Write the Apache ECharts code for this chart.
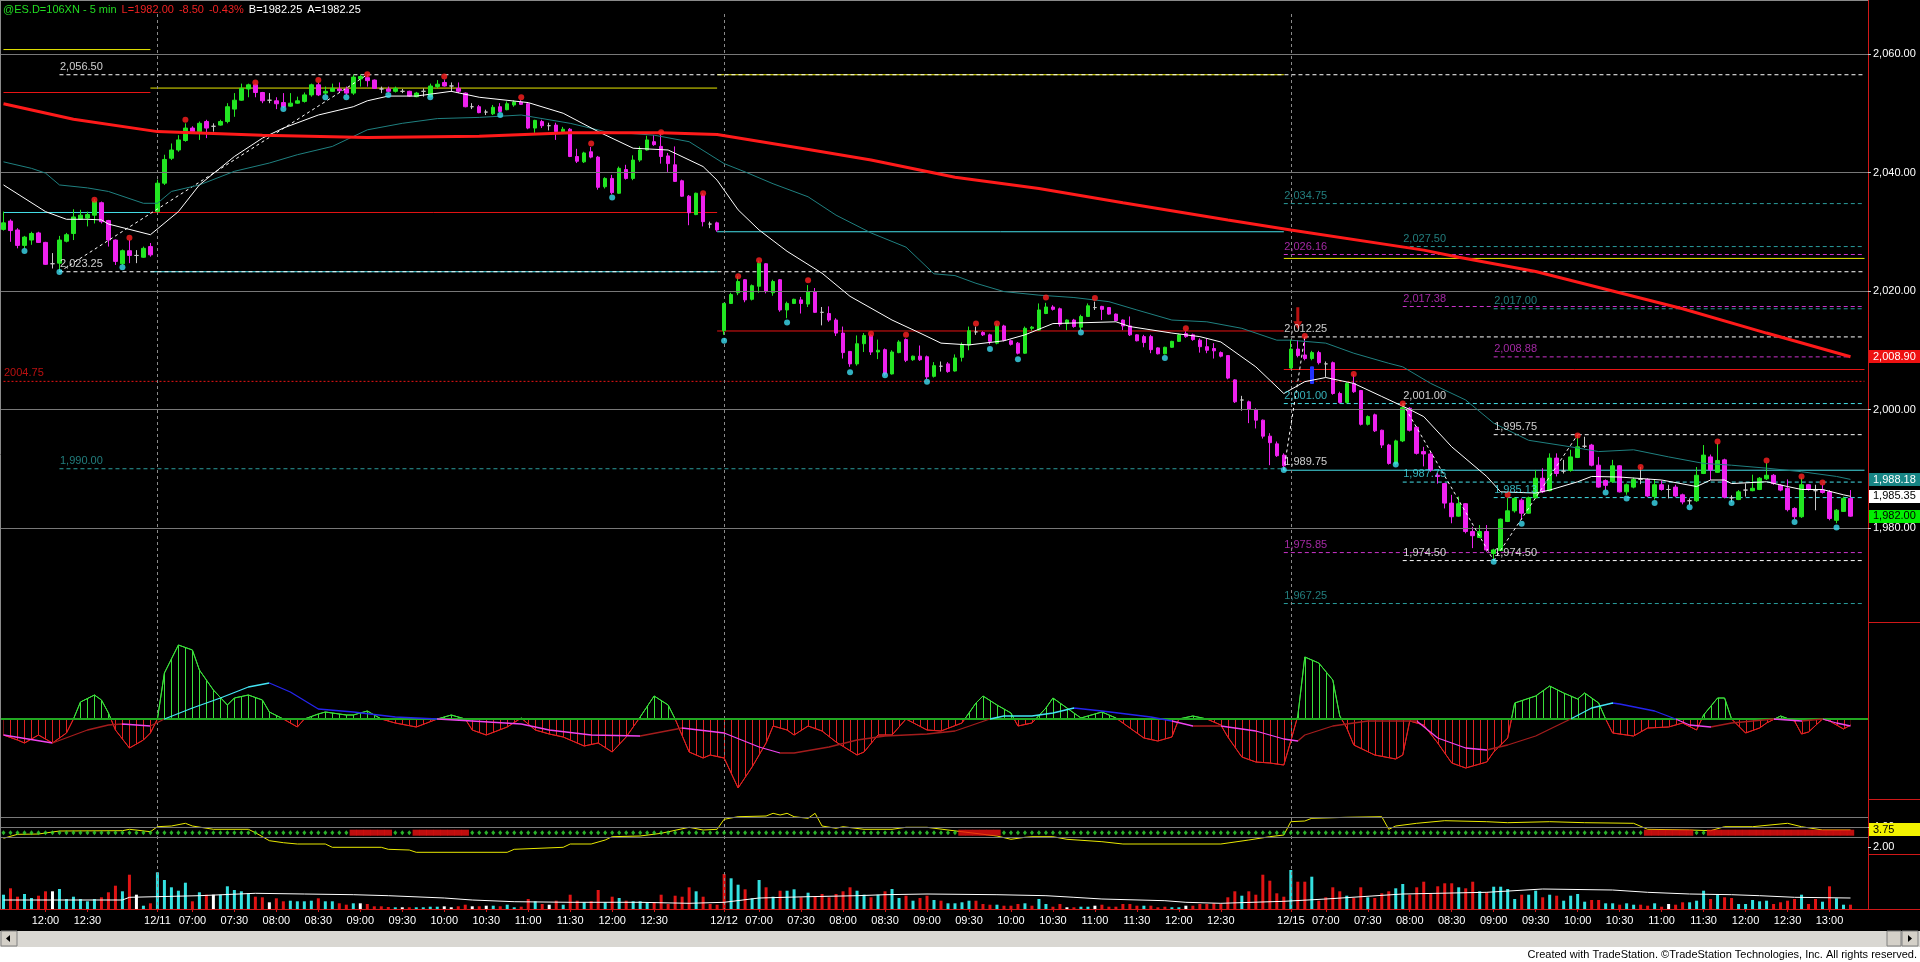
<!DOCTYPE html>
<html>
<head>
<meta charset="utf-8">
<title>@ES.D 5 min</title>
<style>
html,body{margin:0;padding:0;background:#000;overflow:hidden}
#chart{width:1920px;height:962px}
</style>
<script src="https://cdn.jsdelivr.net/npm/echarts@6/dist/echarts.min.js"></script>
</head>
<body>
<div id="chart"></div>
<script>
/* ES 5 min, 12/10 - 12/15. Price / MACD / signal strip / volume, TradeStation look. */
var FONT = "'Liberation Sans', Arial, sans-serif";
var FS = 11;

/* sessions: [day, first bar time, bar count] */
var sessions = [["12/10","11:30",22],["12/11","06:35",81],["12/12","06:35",81],["12/15","06:35",81]];
var emptySlots = 2;

/* bars: [open, high, low, close] */
var ohlc = [
 /* 12/10 */
 [2030.4,2033.4,2030.2,2031.5],[2031.8,2032.1,2028.3,2030.2],[2030.3,2030.6,2027.2,2027.7],[2027.7,2029.3,2027.2,2029.1],
 [2028.6,2030.0,2027.8,2029.7],[2029.8,2030.0,2028.1,2028.2],[2028.2,2028.3,2024.4,2024.5],[2024.6,2026.4,2023.8,2024.6],
 [2024.7,2029.3,2023.25,2028.6],[2028.4,2029.8,2028.2,2029.5],[2029.7,2033.8,2028.6,2032.5],[2032.1,2033.7,2032.0,2032.8],
 [2032.3,2033.4,2030.9,2032.9],[2032.8,2035.5,2031.4,2035.1],[2034.9,2035.1,2031.4,2031.7],[2031.9,2032.0,2027.5,2028.6],
 [2028.6,2028.7,2024.4,2025.0],[2024.6,2027.0,2024.4,2026.8],[2026.8,2028.6,2024.7,2026.0],[2026.0,2026.9,2024.7,2026.0],
 [2025.7,2027.5,2025.6,2027.2],[2027.5,2028.1,2025.8,2026.1],
 /* 12/11 */
 [2033.4,2038.8,2033.3,2038.2],[2038.2,2043.0,2037.9,2042.2],[2042.4,2044.9,2042.1,2043.8],[2043.8,2046.3,2043.5,2045.5],
 [2045.4,2048.3,2045.2,2047.5],[2047.5,2047.8,2046.6,2046.9],[2046.9,2048.6,2045.5,2048.3],[2048.6,2048.9,2045.8,2047.5],
 [2047.8,2048.3,2046.9,2047.8],[2048.0,2048.9,2047.9,2048.6],[2048.6,2051.7,2048.3,2051.1],[2050.7,2053.4,2049.4,2052.2],
 [2052.2,2055.0,2052.1,2054.2],[2054.1,2055.0,2052.7,2054.8],[2054.8,2055.0,2052.7,2053.5],[2053.5,2053.6,2051.7,2052.1],
 [2052.2,2053.4,2051.7,2052.2],[2052.1,2052.7,2050.7,2051.6],[2051.8,2053.4,2050.9,2051.1],[2051.2,2053.4,2051.1,2051.7],
 [2051.7,2052.8,2051.6,2052.1],[2052.0,2053.5,2051.8,2053.1],[2053.1,2055.0,2052.8,2054.8],[2054.8,2055.2,2052.9,2053.1],
 [2053.4,2054.5,2053.1,2053.7],[2053.7,2055.0,2053.6,2054.2],[2054.1,2055.2,2053.4,2053.8],[2054.1,2054.5,2053.1,2053.4],
 [2053.4,2056.5,2053.1,2056.1],[2055.8,2056.5,2054.5,2056.2],[2056.0,2056.5,2054.5,2055.5],[2055.6,2055.7,2054.1,2054.2],
 [2054.1,2054.5,2053.4,2054.1],[2054.1,2054.5,2053.5,2053.7],[2053.7,2054.5,2053.5,2054.2],[2053.7,2054.1,2053.4,2053.7],
 [2053.7,2053.8,2052.8,2052.9],[2052.8,2053.6,2052.7,2053.4],[2053.7,2054.2,2052.8,2053.7],[2052.8,2055.0,2052.7,2054.6],
 [2054.5,2055.6,2054.2,2054.9],[2055.2,2055.7,2054.5,2054.6],[2054.6,2055.2,2053.6,2054.6],[2054.2,2055.2,2053.4,2053.7],
 [2053.4,2053.5,2051.0,2051.1],[2051.1,2051.7,2050.7,2051.1],[2051.1,2051.4,2050.0,2050.1],[2050.2,2050.6,2049.7,2050.2],
 [2049.9,2051.4,2049.7,2051.0],[2051.1,2051.7,2050.1,2050.3],[2050.6,2052.0,2050.5,2051.6],[2051.4,2052.2,2051.1,2051.9],
 [2051.9,2052.2,2051.4,2051.5],[2051.6,2051.7,2047.3,2047.5],[2047.5,2048.9,2046.7,2048.8],[2048.6,2048.9,2047.5,2047.9],
 [2047.9,2048.4,2047.1,2047.9],[2048.0,2048.4,2045.5,2046.9],[2046.9,2047.7,2046.6,2047.3],[2047.3,2047.5,2042.6,2042.7],
 [2042.7,2044.0,2041.6,2041.9],[2041.8,2043.5,2041.6,2043.3],[2043.5,2044.3,2042.4,2042.6],[2042.6,2042.8,2037.1,2037.5],
 [2037.6,2039.2,2037.3,2039.0],[2039.0,2039.6,2036.3,2036.6],[2036.5,2041.0,2036.4,2040.7],[2040.5,2041.3,2038.8,2039.0],
 [2039.0,2042.9,2038.7,2042.1],[2042.1,2044.4,2041.8,2043.8],[2043.8,2046.2,2043.7,2045.5],[2045.2,2046.3,2044.5,2044.7],
 [2044.4,2046.6,2041.5,2042.7],[2042.8,2043.3,2040.1,2041.5],[2041.3,2044.4,2038.4,2038.5],[2038.6,2038.8,2035.9,2036.0],
 [2036.0,2036.2,2031.1,2033.2],[2032.9,2036.6,2032.8,2036.5],[2036.2,2036.5,2030.9,2031.7],[2031.3,2031.7,2030.6,2031.3],
 [2031.5,2031.7,2030.0,2030.3],
 /* 12/12 */
 [2013.3,2018.0,2012.6,2017.9],[2017.9,2019.7,2017.8,2019.4],[2019.7,2022.5,2019.3,2021.6],[2021.9,2022.0,2018.1,2018.5],
 [2018.6,2021.1,2018.4,2020.9],[2020.8,2025.1,2019.7,2024.7],[2024.6,2024.7,2019.6,2019.9],[2019.7,2021.9,2019.2,2021.6],
 [2021.9,2022.0,2016.5,2016.8],[2016.8,2018.2,2015.4,2017.9],[2017.9,2018.7,2017.8,2018.6],[2018.5,2019.0,2016.2,2017.9],
 [2017.8,2021.0,2017.3,2019.9],[2019.9,2020.5,2016.3,2016.4],[2016.4,2017.3,2014.2,2016.4],[2016.2,2017.4,2014.8,2015.1],
 [2015.1,2015.4,2012.4,2012.9],[2012.9,2014.0,2008.6,2009.6],[2009.8,2009.8,2007.2,2007.7],[2007.7,2012.5,2007.4,2011.1],
 [2011.1,2012.9,2009.7,2012.5],[2012.5,2012.7,2009.2,2009.7],[2009.7,2011.8,2008.5,2010.0],[2010.1,2010.3,2005.7,2006.0],
 [2006.0,2010.0,2005.9,2009.7],[2009.6,2011.7,2009.5,2011.4],[2011.8,2012.0,2008.0,2008.3],[2008.4,2009.1,2008.2,2009.0],
 [2009.0,2010.8,2008.2,2008.4],[2008.9,2009.1,2005.1,2005.5],[2005.6,2008.0,2005.4,2007.4],[2007.3,2008.1,2006.4,2007.3],
 [2007.7,2008.0,2006.2,2006.4],[2006.5,2009.3,2006.4,2008.7],[2008.8,2011.3,2008.1,2010.9],[2010.9,2014.0,2010.0,2013.3],
 [2013.1,2014.0,2012.6,2013.1],[2013.0,2013.2,2012.4,2012.6],[2012.6,2012.8,2011.0,2011.5],[2011.2,2014.5,2011.0,2014.1],
 [2014.1,2014.3,2011.5,2011.7],[2011.6,2011.8,2010.8,2011.0],[2011.2,2011.4,2009.3,2009.5],[2009.5,2014.0,2009.4,2013.7],
 [2013.7,2014.1,2013.3,2013.9],[2013.4,2017.9,2013.3,2016.8],[2016.2,2018.0,2016.1,2017.3],[2017.3,2017.6,2016.7,2016.9],
 [2017.0,2017.2,2014.0,2014.4],[2014.5,2015.2,2013.4,2015.1],[2015.1,2015.3,2013.8,2014.0],[2013.9,2016.0,2013.4,2015.7],
 [2015.7,2017.9,2015.6,2017.5],[2017.2,2018.2,2016.8,2017.2],[2017.4,2017.5,2015.1,2016.9],[2017.2,2017.3,2016.0,2016.1],
 [2016.1,2016.2,2014.9,2015.0],[2015.1,2015.2,2013.4,2014.1],[2014.1,2015.7,2012.4,2012.6],[2012.6,2012.7,2011.5,2011.6],
 [2012.3,2012.6,2010.5,2011.3],[2012.3,2012.6,2009.5,2010.1],[2010.4,2010.5,2009.3,2009.4],[2009.4,2010.6,2009.3,2010.5],
 [2010.5,2011.6,2010.4,2011.5],[2011.5,2012.8,2011.4,2012.6],[2012.8,2013.2,2012.1,2012.3],[2012.6,2012.8,2011.6,2011.8],
 [2011.7,2012.0,2009.6,2010.6],[2010.6,2012.0,2009.5,2010.0],[2010.3,2011.2,2008.6,2009.9],[2009.6,2009.8,2008.8,2009.0],
 [2009.1,2009.2,2005.1,2005.3],[2005.0,2005.1,2001.1,2001.3],[2001.6,2002.3,1999.8,2001.6],[2001.3,2001.5,1997.7,2000.0],
 [2000.0,2000.2,1996.8,1998.2],[1998.2,1998.3,1995.1,1995.5],[1995.5,1996.0,1990.6,1994.4],[1994.2,1994.6,1992.0,1992.2],
 [1992.3,1992.6,1989.75,1990.5],
 /* 12/15 */
 [2007.0,2011.8,2006.9,2010.2],[2010.2,2011.7,2008.8,2009.1],[2009.2,2012.25,2008.3,2008.6],[2008.6,2009.9,2008.3,2009.6],
 [2009.6,2009.9,2007.6,2007.9],[2007.7,2008.1,2005.5,2007.7],[2007.9,2008.1,2002.5,2002.7],[2002.7,2003.0,2001.0,2001.2],
 [2001.2,2004.6,2001.0,2004.4],[2004.4,2005.9,2002.8,2003.0],[2003.2,2003.3,1997.3,1997.5],[1997.5,1999.0,1997.3,1998.8],
 [1999.1,1999.3,1996.2,1996.4],[1996.5,1996.6,1993.5,1994.0],[1994.0,1994.2,1990.7,1990.9],[1990.9,1994.9,1990.6,1994.7],
 [1994.7,2001.0,1994.5,2000.3],[2000.2,2000.4,1996.3,1996.5],[1997.0,1997.2,1992.4,1992.6],[1992.9,1993.7,1990.4,1992.5],
 [1992.5,1992.9,1989.5,1989.8],[1988.9,1989.3,1987.5,1988.7],[1987.5,1987.6,1983.3,1984.2],[1984.2,1985.6,1980.8,1981.9],
 [1982.0,1985.3,1981.9,1984.1],[1984.1,1984.2,1979.1,1979.4],[1979.4,1980.2,1976.6,1978.7],[1978.4,1980.5,1978.3,1979.4],
 [1979.4,1980.5,1976.0,1976.3],[1975.7,1976.5,1974.5,1976.3],[1976.2,1981.6,1976.1,1981.5],[1981.1,1985.1,1981.0,1982.9],
 [1982.9,1985.2,1982.6,1985.0],[1984.7,1985.0,1981.4,1982.5],[1982.5,1985.3,1982.4,1985.1],[1985.1,1989.8,1985.0,1988.4],
 [1988.4,1990.1,1985.9,1986.1],[1986.3,1992.6,1986.2,1991.8],[1991.8,1992.6,1988.7,1989.2],[1989.6,1991.5,1989.2,1989.6],
 [1989.7,1993.2,1989.5,1992.0],[1991.9,1995.75,1991.8,1993.7],[1993.8,1995.4,1993.5,1993.8],[1994.0,1994.2,1990.4,1990.6],
 [1990.6,1992.0,1986.8,1986.9],[1988.0,1988.2,1986.4,1987.2],[1987.8,1991.5,1987.6,1990.5],[1990.5,1990.6,1986.0,1986.1],
 [1986.1,1987.5,1985.6,1987.3],[1986.9,1988.5,1986.7,1988.2],[1988.2,1990.3,1987.4,1988.2],[1988.2,1988.4,1985.2,1985.4],
 [1985.3,1988.1,1984.8,1987.3],[1987.3,1988.0,1986.3,1986.5],[1986.5,1987.3,1985.0,1986.5],[1986.9,1987.3,1985.2,1985.4],
 [1985.6,1985.8,1984.0,1984.4],[1984.6,1985.0,1983.9,1984.6],[1984.6,1990.3,1984.4,1988.9],[1989.2,1994.0,1989.1,1992.3],
 [1992.0,1992.4,1988.1,1989.8],[1989.4,1994.3,1989.3,1991.4],[1991.5,1991.7,1985.0,1985.2],[1985.1,1985.5,1984.4,1985.1],
 [1984.8,1986.4,1984.7,1986.1],[1986.4,1987.5,1985.3,1986.4],[1986.3,1989.0,1986.2,1986.7],[1986.5,1988.6,1986.4,1988.4],
 [1988.3,1991.0,1988.1,1988.9],[1988.9,1989.1,1987.3,1987.5],[1987.2,1987.4,1986.2,1986.4],[1986.7,1988.2,1982.8,1983.1],
 [1983.3,1983.5,1981.5,1981.9],[1981.9,1988.5,1981.7,1987.3],[1987.3,1987.4,1986.3,1986.5],[1986.3,1987.3,1983.0,1986.3],
 [1986.4,1987.3,1985.8,1986.0],[1986.1,1986.4,1981.3,1981.6],[1981.3,1983.2,1980.8,1983.0],[1982.8,1985.3,1982.7,1985.0],
 [1985.0,1986.4,1981.9,1982.0]
];

/* moving averages read at points: [bar, price] */
var maLong = [[0,2051.6],[10,2049.0],[22,2046.9],[37,2046.3],[52,2045.9],[68,2046.1],[81,2046.7],[94,2046.7],[102,2046.4],
 [114,2044.1],[124,2042.1],[136,2039.2],[148,2037.3],[160,2034.9],[175,2032.0],[184,2030.3],[203,2026.9],[208,2025.7],
 [219,2023.3],[230,2020.0],[240,2017.0],[252,2012.9],[264,2008.9]];
var maFast = [[0,2037.9],[6,2033.4],[9,2032.1],[12,2032.1],[14,2032.0],[15,2031.3],[21,2029.5],[25,2033.4],[28,2037.9],
 [33,2042.7],[37,2045.8],[40,2047.5],[45,2049.7],[50,2051.1],[52,2052.1],[55,2052.9],[59,2052.9],[64,2053.7],[68,2052.7],
 [75,2051.8],[80,2050.0],[85,2046.9],[90,2044.1],[95,2043.8],[100,2041.0],[102,2038.7],[105,2033.7],[108,2030.3],
 [112,2026.7],[117,2023.0],[121,2019.1],[127,2015.1],[131,2012.9],[134,2011.2],[138,2010.9],[143,2011.6],[146,2012.6],
 [150,2014.5],[159,2014.8],[161,2014.0],[167,2012.9],[171,2012.3],[174,2011.4],[179,2007.2],[183,2002.7],[186,2004.7],
 [189,2005.4],[193,2004.4],[197,2002.2],[201,2000.0],[203,1998.8],[207,1993.7],[212,1988.7],[214,1986.1],[219,1985.9],
 [221,1986.4],[225,1987.8],[227,1988.7],[231,1988.6],[237,1988.1],[242,1987.0],[244,1988.1],[246,1988.1],[247,1987.5],
 [252,1987.8],[255,1987.0],[257,1986.5],[260,1986.5],[263,1985.6],[264,1985.35]];
var bandTop = [[0,2041.8],[4,2040.7],[6,2039.9],[8,2037.9],[12,2037.4],[15,2036.8],[20,2034.8],[22,2034.8],[24,2036.8],
 [28,2037.9],[33,2040.2],[38,2041.6],[42,2043.0],[47,2044.4],[52,2047.2],[57,2048.3],[62,2049.1],[68,2049.3],[74,2049.7],
 [81,2048.3],[86,2046.9],[93,2046.3],[98,2045.2],[103,2041.5],[106,2040.1],[110,2038.1],[115,2035.9],[119,2032.8],
 [124,2029.8],[129,2027.4],[133,2022.9],[136,2022.6],[139,2021.3],[143,2019.9],[148,2019.3],[153,2018.9],[158,2018.2],
 [162,2016.8],[167,2015.1],[172,2014.8],[177,2013.7],[182,2011.7],[184,2011.7],[189,2011.2],[193,2009.5],[198,2007.8],
 [200,2007.2],[204,2004.4],[209,2001.6],[213,1997.7],[218,1994.8],[224,1993.7],[228,1992.9],[233,1993.2],[238,1992.0],
 [243,1990.9],[247,1990.6],[252,1990.1],[257,1989.5],[262,1988.7],[264,1988.2]];

/* swing markers: [bar, price] */
var swingHighs = [[13,2035.4],[18,2029.0],[26,2048.9],[36,2055.2],[45,2055.6],[52,2056.6],[63,2056.2],[74,2052.7],
 [84,2044.9],[94,2046.8],[100,2036.5],[105,2022.5],[108,2025.2],[115,2021.8],[124,2012.8],[129,2012.6],[139,2014.5],
 [142,2014.5],[149,2018.9],[156,2018.8],[169,2013.7],[186,2012.4],[193,2006.0],[200,2001.0],[215,1985.6],[225,1995.6],
 [234,1990.3],[245,1994.6],[252,1991.4],[257,1988.7],[260,1987.7]];
var swingLows = [[3,2026.75],[8,2023.2],[17,2024.0],[40,2050.7],[46,2052.7],[49,2052.7],[55,2053.1],[61,2052.7],
 [71,2049.7],[87,2035.8],[103,2011.6],[112,2014.7],[121,2006.3],[126,2005.8],[132,2004.7],[141,2010.2],[145,2008.5],
 [154,2013.0],[166,2008.7],[183,1989.8],[199,1990.7],[213,1974.3],[217,1980.7],[229,1986.0],[232,1985.0],[236,1984.2],
 [241,1983.5],[247,1984.2],[256,1981.0],[262,1980.1]];
var zigzag = [[[8,2023.25],[52,2056.5]],[[183,1989.75],[186,2012.25]],[[200,2001.0],[213,1974.5]],[[213,1974.5],[225,1995.75]]];
var arrowBar = [185, 2015.4];
var blueBar = [187, 2007.2, 2004.4];

/* session lines: [from, to, open, prior low, prior high] */
var sessionLines = [[0,21,2053.50,2033.25,2060.75],[21,102,2033.25,2023.25,2054.25],[102,183,2013.25,2030.00,2056.50],[183,266,2006.75,1989.75,2025.50]];

/* drawn levels: [from, to, price, colour, style, text] */
var levels = [
 [8,266,2056.50,"white","dash","2,056.50"],[8,266,2023.25,"white","dash","2,023.25"],[8,183,1990.00,"teal","dash","1,990.00"],
 [0,266,2004.75,"red","dot","2004.75"],[183,266,2034.75,"teal","dash","2,034.75"],[200,266,2027.50,"teal","dash","2,027.50"],
 [183,266,2026.16,"magenta","dash","2,026.16"],[200,266,2017.38,"magenta","dash","2,017.38"],[213,266,2017.00,"teal","dash","2,017.00"],
 [183,266,2012.25,"white","dash","2,012.25"],[213,264,2008.88,"magenta","dash","2,008.88"],[183,266,2001.00,"cyan","dash","2,001.00"],
 [213,266,1995.75,"white","dash","1,995.75"],[200,266,1987.75,"cyan","dash","1,987.75"],[213,266,1985.13,"cyan","dash","1,985.13"],
 [183,266,1975.85,"magenta","dash","1,975.85"],[200,266,1974.50,"white","dash","1,974.50"],[183,266,1967.25,"teal","dash","1,967.25"]
];
var extraLabels = [[200,2001.00,"white","2,001.00"],[213,1974.50,"white","1,974.50"],[183,1989.75,"white","1,989.75"]];

/* MACD histogram envelope and signal: [bar, value] */
var macdHist = [[0,-1.6],[2,-2.1],[3,-2.4],[5,-1.6],[7,-2.4],[9,-1.4],[10,0],[11,1.7],[13,2.4],[14,1.9],[15,0.6],[16,-1.1],
 [18,-2.9],[20,-2.1],[21,-1.4],[22,0],[23,4.6],[25,7.4],[27,6.9],[28,4.9],[30,2.9],[32,1.4],[33,2.1],[35,2.4],[37,1.9],
 [38,0.7],[40,0],[42,-0.8],[43,0],[45,0.5],[46,0.7],[49,0.4],[50,0.4],[52,0.8],[54,0],[56,-0.4],[59,-0.8],[62,0],[64,0.4],
 [66,0],[67,-1.1],[69,-1.6],[72,-0.8],[74,0.1],[76,-1.1],[78,-1.5],[80,-1.8],[83,-2.7],[85,-2.4],[87,-3.3],[89,-1.8],
 [91,0.2],[93,2.3],[95,1.4],[96,0],[98,-3.3],[100,-3.9],[101,-3.6],[103,-3.9],[105,-6.9],[107,-4.8],[109,-2.4],[110,-0.7],
 [112,-1.1],[113,-1.6],[115,-0.7],[117,-1.2],[119,-2.3],[122,-3.6],[123,-3.3],[125,-1.6],[127,-1.6],[129,0],[132,-1.1],
 [134,-1.2],[137,-0.4],[139,1.6],[140,2.3],[142,1.4],[144,0.6],[145,-0.7],[147,-0.4],[149,1.1],[150,2.1],[152,1.1],
 [154,0.1],[155,0.3],[157,0.7],[159,0.1],[161,-0.9],[163,-1.9],[165,-2.2],[167,-1.8],[168,0],[170,0.3],[172,0],[174,-0.6],
 [175,-1.8],[177,-3.8],[179,-4.3],[181,-4.4],[183,-4.6],[184,-2.2],[185,0.3],[186,6.2],[188,5.6],[190,3.9],[191,0.3],
 [192,-0.9],[193,-2.6],[196,-3.6],[199,-4.0],[200,-3.6],[201,-0.2],[203,-0.6],[205,-2.4],[207,-4.4],[209,-4.9],[212,-4.3],
 [213,-3.3],[215,-1.9],[216,1.6],[219,2.3],[221,3.3],[223,2.6],[225,2.0],[226,2.6],[228,1.6],[229,0],[230,-1.4],[232,-1.6],
 [233,-1.7],[235,-0.9],[238,-0.8],[240,-0.4],[242,-1.1],[243,0.4],[245,2.1],[246,2.1],[247,0],[249,-1.4],[251,-0.9],
 [252,-0.4],[254,0.3],[256,-0.2],[257,-1.5],[258,-1.3],[260,0],[261,-0.2],[263,-1.0],[264,-0.6]];
var macdSignal = [[0,-1.6],[7,-2.4],[12,-1.1],[15,-0.6],[17,-0.5],[21,-0.7],[23,0],[27,1.1],[31,2.1],[35,3.2],[38,3.6],
 [41,2.7],[45,1.0],[50,0.7],[56,0.2],[62,0],[67,-0.2],[74,-0.5],[78,-1.1],[84,-1.6],[91,-1.7],[97,-0.9],[103,-1.4],
 [108,-2.8],[111,-3.4],[113,-3.4],[118,-2.8],[122,-2.1],[126,-1.7],[129,-1.6],[132,-1.5],[136,-1.2],[141,0],[143,0.3],
 [147,0.3],[150,0.6],[153,1.1],[157,0.8],[164,0.2],[167,-0.2],[170,-0.7],[174,-0.7],[179,-1.2],[183,-2.0],[185,-2.2],
 [186,-1.6],[190,-0.7],[195,-0.2],[202,-0.2],[205,-1.9],[209,-2.9],[212,-3.1],[215,-2.6],[219,-1.7],[224,0],[227,1.1],
 [230,1.6],[231,1.5],[236,0.8],[239,0],[241,-0.6],[244,-0.8],[247,-0.4],[253,0],[257,-0.2],[260,0],[262,-0.4],[264,-0.7]];

/* middle strip: yellow line [bar, value], red runs of the dot row */
var stripLine = [[0,2.87],[2,3.27],[5,3.3],[8,3.6],[17,3.63],[18,3.77],[21,3.53],[22,4.03],[24,4.1],[26,4.37],[27,4.1],
 [30,3.77],[35,3.77],[36,3.43],[38,2.63],[40,2.43],[42,2.3],[46,2.3],[47,1.97],[54,1.97],[55,1.77],[58,1.7],[59,1.47],
 [72,1.47],[73,1.77],[80,1.97],[81,2.3],[84,2.3],[86,2.7],[87,3.03],[91,3.1],[94,3.37],[98,3.97],[100,3.7],[102,3.77],
 [103,4.77],[105,5.03],[109,5.1],[110,5.37],[111,5.2],[112,5.37],[113,5.03],[115,4.87],[116,5.37],[117,4.1],[119,3.87],
 [120,4.03],[123,3.77],[127,3.77],[129,3.97],[132,3.97],[135,3.7],[137,3.53],[142,3.1],[144,2.77],[146,2.97],[147,3.03],
 [150,3.03],[152,2.77],[157,2.53],[160,2.3],[174,2.3],[178,2.7],[181,3.03],[183,3.2],[184,4.53],[186,4.6],[187,4.87],
 [192,4.97],[197,5.03],[198,3.77],[199,4.1],[202,4.37],[206,4.63],[212,4.53],[215,4.43],[221,4.53],[226,4.43],[233,4.37],
 [235,3.77],[241,3.7],[244,3.63],[246,4.03],[250,4.03],[255,4.37],[257,4.03],[260,3.7],[264,3.7]];
var stripDotLevel = 3.43;
var stripRedRuns = [[50,55],[59,66],[137,142],[235,241],[244,264]];
var stripGridValues = [3,4,5];

/* volume per bar, and colour code per bar (c up, r down, w unchanged) */
var volume = [
 14.3,20.7,12.3,15,11,13.3,17.7,17.7,20,10,12.3,10,7.7,10,11.7,16.7,23.3,17.7,34.3,14.3,3.3,5.7,
 36.7,29,21.7,18.3,26.3,7.7,16.7,14.3,14.3,14.3,22.7,19,17.7,15.7,12.3,11.7,6.7,10.7,7.7,8.3,
 7.7,7.7,8.3,10.7,7.7,7.7,5.7,4.3,5.7,5.7,5,2.7,2.7,2,1.7,1.7,1.7,1.7,1.7,2.3,
 2.3,2.7,1.7,2.7,4.3,2.7,2.7,3.3,3.3,2.7,4.3,1.7,2.3,10,7.7,5,4.3,8.3,4.3,14.3,
 8.3,6.7,7.7,19,6.7,12.3,11,8.3,7.7,7.7,6.7,6.7,14.3,5,13.3,12.3,21.7,17.7,12.3,5,
 4.3,35,30.7,24.3,19.7,10.7,29,21.7,12.3,18.3,18.3,19.7,11.7,16.3,12.3,15,11.7,15,17.7,21.7,
 18.3,14.3,11.7,14.3,17.7,20,11,13.3,8.3,11,13.3,9,8.3,5.7,5.7,6.7,8.3,8.3,5,4.3,
 4.3,3.3,3.3,5,5.7,3.3,10,5,2.3,5,1.7,1.7,2.3,2.3,3.3,4.3,2.3,2.3,5,5,
 3.3,3.3,3.3,1.7,2.3,1.7,1.7,3.3,3.3,5,5,5.7,5,11.7,17.7,13.3,17.7,14.3,34.3,28.3,
 15.7,12.3,39,27.3,27.3,32.3,8.3,11.7,21.7,17.7,13.3,11,21.7,11.7,11,15.7,17.7,20.7,25,14.3,
 21.7,27.3,15.7,22.7,25.7,25.7,21.7,20.7,27.3,17.7,16.7,22.3,22.3,20,10,14.3,14.3,18.3,11.7,14.3,
 13.3,8.3,13.3,15,7.3,9,9,5.7,5.7,4.3,5.7,4.3,4.3,3.3,5.7,2.3,5,4.3,6.7,6.7,
 8.3,18.3,10,15,11.7,11,5,5,9,7.7,8.3,5,6.7,8.3,10,14.3,5,10,7.3,22.7,10.7,4.3,4.3
];
var volColor = ("crrccrrwccccccrrrcrwcr" + "cccccrcrwcccccrrwrrc" + "cccrccrrcwrrrrcwrccc" + "cwwrrwrwcrccrrcrwrcr" +
 "rcrrcrcrcccrrrrrrcrr" + "rrccrccrcrccrcrrrrrr" + "ccrcrccrcrrcrccccrrr" + "crrrcrccrrwrccwrrrrr" +
 "rcrrrccwrrrrrrrcrrrr" + "rrcrrcrrrrcrrcrrrccr" + "rrrrrrcrrcrccccrccrc" + "rccccrrccrccrrcrwrrc" +
 "ccrcrrcccccrrrrcrrcrccr").split("");
var volAvg = [[0,9],[17,9],[18,11.7],[28,13.3],[36,15.7],[43,15],[50,14.3],[55,13.3],[63,11],[67,9],[73,7.3],[81,6.7],
 [91,6.7],[98,5.7],[103,6.7],[108,11],[115,12.3],[122,13.3],[126,14.3],[132,15],[142,14.3],[149,13.3],[153,11.7],
 [157,10],[166,8.3],[169,6.7],[174,5.7],[183,7.7],[189,10],[200,15],[212,16.7],[220,20],[230,19],[235,16.7],[241,15],
 [247,14.3],[251,13.3],[256,11.7],[264,11]];

/* x tick labels: [bar, text] */
var xTicks = [[6,"12:00"],[12,"12:30"],
 [22,"12/11"],[27,"07:00"],[33,"07:30"],[39,"08:00"],[45,"08:30"],[51,"09:00"],[57,"09:30"],[63,"10:00"],[69,"10:30"],[75,"11:00"],[81,"11:30"],[87,"12:00"],[93,"12:30"],
 [103,"12/12"],[108,"07:00"],[114,"07:30"],[120,"08:00"],[126,"08:30"],[132,"09:00"],[138,"09:30"],[144,"10:00"],[150,"10:30"],[156,"11:00"],[162,"11:30"],[168,"12:00"],[174,"12:30"],
 [184,"12/15"],[189,"07:00"],[195,"07:30"],[201,"08:00"],[207,"08:30"],[213,"09:00"],[219,"09:30"],[225,"10:00"],[231,"10:30"],[237,"11:00"],[243,"11:30"],[249,"12:00"],[255,"12:30"],[261,"13:00"]];
var dayStarts = [22,103,184];
var priceTicks = [1980,2000,2020,2040,2060];
var stripTicks = [2,4];

/* right-hand value tags: [value, text, background, text colour] */
var priceTags = [[2008.90,"2,008.90","#ee1111","#ffffff"],[1988.18,"1,988.18","#178585","#ffffff"],
 [1985.35,"1,985.35","#ffffff","#000000"],[1982.00,"1,982.00","#00ee00","#000000"]];
var stripTags = [[3.75,"3.75","#f2f200","#000000"]];

/* header pieces: [text, colour] */
var header = [["@ES.D=106XN - 5 min","#22dd22"],["L=1982.00","#ee2222"],["-8.50","#ee2222"],
 ["-0.43%","#ee2222"],["B=1982.25","#ffffff"],["A=1982.25","#ffffff"]];

var C = {
  up:"#22e622", dn:"#ee22ee", doji:"#c8c8c8", axis:"#d01818", grid:"#787878",
  white:"#ffffff", teal:"#2a9c9c", tealLine:"#1f8080", magenta:"#cc33cc", cyan:"#44dfe8", yellow:"#e8e800", red:"#e81414",
  maLong:"#ff1a1a", hi:"#ff2020", lo:"#3cdcf0", blue:"#2233ff",
  histUp:"#3ae03a", histDn:"#e02020", zero:"#22a822",
  sigUpRise:"#44e4f4", sigUpFall:"#2424ee", sigDnRise:"#a41c1c", sigDnFall:"#ee44ee",
  volUp:"#33e0e0", volDn:"#e01414", volEq:"#ffffff", stripDot:"#33dd33", stripRed:"#ee1111"
};
var levelColor = {white:C.white, teal:C.teal, magenta:C.magenta, cyan:C.cyan, red:C.red};
var volColorMap = {c:C.volUp, r:C.volDn, w:C.volEq};

/* ---------- categories ---------- */
function pad(n){ return (n<10?"0":"")+n; }
var cats = [];
sessions.forEach(function(s){
  var hm = s[1].split(":"), t0 = (+hm[0])*60 + (+hm[1]);
  for(var k=0;k<s[2];k++){ var m=t0+5*k; cats.push(s[0]+" "+pad(Math.floor(m/60))+":"+pad(m%60)); }
});
for(var e=0;e<emptySlots;e++) cats.push("pad"+e);
var tickMap = {}; xTicks.forEach(function(t){ tickMap[t[0]] = t[1]; });

function fmtPrice(v){
  var s = v.toFixed(2).split(".");
  s[0] = s[0].replace(/\B(?=(\d{3})+(?!\d))/g, ",");
  return s.join(".");
}
function pts(arr){ return arr.map(function(p){ return [cats[p[0]], p[1]]; }); }

/* ---------- layout ---------- */
var W = 1868;
var grids = [
  {left:0, top:-5.25, width:W, height:651.75},
  {left:0, top:622, width:W, height:177},
  {left:0, top:797, width:W, height:60},
  {left:0, top:854, width:W, height:55}
];
grids.forEach(function(g){ g.outerBoundsMode = "none"; g.containLabel = false; g.show = false; });
var macdMin = -8, macdMax = 9.7;

/* MACD colours as fixed gradients: green above zero, red below; signal coloured per stretch */
var zeroOff = macdMax / (macdMax - macdMin);
var histGrad = {type:"linear", global:true, x:0, y:grids[1].top, x2:0, y2:grids[1].top+grids[1].height,
  colorStops:[{offset:0,color:C.histUp},{offset:zeroOff,color:C.histUp},{offset:zeroOff,color:C.histDn},{offset:1,color:C.histDn}]};
var sigStops = [];
for(var k=0;k<macdSignal.length-1;k++){
  var a = macdSignal[k], b = macdSignal[k+1];
  var mid = (a[1]+b[1])/2, rising = b[1] >= a[1];
  var col = mid >= 0 ? (rising ? C.sigUpRise : C.sigUpFall) : (rising ? C.sigDnRise : C.sigDnFall);
  sigStops.push({offset:(a[0]+0.5)/cats.length, color:col});
  sigStops.push({offset:(b[0]+0.5)/cats.length, color:col});
}
var sigGrad = {type:"linear", global:true, x:0, y:0, x2:W, y2:0, colorStops:sigStops};

/* ---------- series ---------- */
var series = [];
function add(s){ series.push(s); return series.length-1; }

/* price grid lines */
add({type:"line", xAxisIndex:0, yAxisIndex:0, silent:true, symbol:"none", z:2, data:[],
  markLine:{silent:true, symbol:"none", label:{show:false}, lineStyle:{color:C.grid, width:1, type:"solid"},
    data: priceTicks.map(function(v){ return {yAxis:v}; })}});
/* session lines */
sessionLines.forEach(function(s){
  [[s[2],C.red],[s[3],C.cyan],[s[4],C.yellow]].forEach(function(l){
    add({type:"line", xAxisIndex:0, yAxisIndex:0, silent:true, symbol:"none", z:3,
      data:[[cats[s[0]],l[0]],[cats[s[1]],l[0]]], lineStyle:{color:l[1], width:1, type:"solid"}});
  });
});
/* drawn levels */
levels.forEach(function(L){
  add({type:"line", xAxisIndex:0, yAxisIndex:0, silent:true, symbol:"none", z:3,
    data:[[cats[L[0]],L[2]],[cats[L[1]],L[2]]],
    lineStyle:{color:levelColor[L[3]], width:1, type: L[4]==="dot" ? [2,2] : [4,3]}});
});
/* zigzag */
zigzag.forEach(function(z){
  add({type:"line", xAxisIndex:0, yAxisIndex:0, silent:true, symbol:"none", z:5,
    data:pts(z), lineStyle:{color:C.white, width:1, type:[3,3]}});
});
/* moving averages */
add({type:"line", xAxisIndex:0, yAxisIndex:0, silent:true, symbol:"none", z:5, data:pts(bandTop), lineStyle:{color:C.tealLine, width:1}});
add({type:"line", xAxisIndex:0, yAxisIndex:0, silent:true, symbol:"none", z:5, data:pts(maFast), lineStyle:{color:C.white, width:1}});
add({type:"line", xAxisIndex:0, yAxisIndex:0, silent:true, symbol:"none", z:5, data:pts(maLong), lineStyle:{color:C.maLong, width:3}});

/* candles */
add({type:"candlestick", xAxisIndex:0, yAxisIndex:0, silent:true, z:4, barWidth:4,
  itemStyle:{color:C.up, color0:C.dn, borderColor:C.up, borderColor0:C.dn, borderWidth:1},
  data: ohlc.map(function(b){
    var it = {value:[b[0], b[3], b[2], b[1]]};
    if(Math.abs(b[0]-b[3]) < 0.05) it.itemStyle = {color:C.doji, color0:C.doji, borderColor:C.doji, borderColor0:C.doji};
    return it;
  })});
add({type:"candlestick", xAxisIndex:0, yAxisIndex:0, silent:true, z:4, barWidth:4,
  encode:{x:0, y:[1,2,3,4]},
  itemStyle:{color:C.blue, color0:C.blue, borderColor:C.blue, borderColor0:C.blue, borderWidth:1},
  data:[[cats[blueBar[0]], blueBar[2], blueBar[1], blueBar[2], blueBar[1]]]});

/* swing dots and arrow */
add({type:"scatter", xAxisIndex:0, yAxisIndex:0, silent:true, z:6, symbol:"circle", symbolSize:6,
  itemStyle:{color:C.hi}, data:pts(swingHighs)});
add({type:"scatter", xAxisIndex:0, yAxisIndex:0, silent:true, z:6, symbol:"circle", symbolSize:6,
  itemStyle:{color:C.lo}, data:pts(swingLows)});
add({type:"scatter", xAxisIndex:0, yAxisIndex:0, silent:true, z:6,
  symbol:"path://M3,0 L6,0 L6,14 L9,14 L4.5,22 L0,14 L3,14 Z", symbolSize:[9,22],
  itemStyle:{color:C.red}, data:[[cats[arrowBar[0]], arrowBar[1]]]});

/* level labels */
var labelItems = [];
levels.forEach(function(L){ labelItems.push({name:L[5], value:[cats[L[0]], L[2]], label:{color:levelColor[L[3]]}}); });
extraLabels.forEach(function(L){ labelItems.push({name:L[3], value:[cats[L[0]], L[1]], label:{color:levelColor[L[2]]}}); });
add({type:"scatter", xAxisIndex:0, yAxisIndex:0, silent:true, z:7, symbol:"rect", symbolSize:1,
  itemStyle:{color:"rgba(0,0,0,0)"},
  label:{show:true, position:[1,-13], fontSize:FS, fontFamily:FONT, formatter:function(p){ return p.name; }},
  data:labelItems});

/* MACD: coloured area, black stripe mask, outline, signal */
var stripe = document.createElement("canvas");
stripe.width = 7; stripe.height = 4;
var sctx = stripe.getContext("2d");
sctx.fillStyle = "#000"; sctx.fillRect(0,0,7,4); sctx.clearRect(3,0,1,4);

add({type:"line", xAxisIndex:1, yAxisIndex:1, silent:true, symbol:"none", z:2,
  data:pts(macdHist), lineStyle:{width:0, color:histGrad}, areaStyle:{color:histGrad, opacity:1}});
add({type:"line", xAxisIndex:1, yAxisIndex:1, silent:true, symbol:"none", z:3,
  data:pts(macdHist), lineStyle:{width:0, color:"rgba(0,0,0,0)"},
  areaStyle:{color:{image:stripe, repeat:"repeat"}, opacity:1}});
add({type:"line", xAxisIndex:1, yAxisIndex:1, silent:true, symbol:"none", z:4,
  data:pts(macdHist), lineStyle:{width:1, color:histGrad},
  markLine:{silent:true, symbol:"none", label:{show:false}, lineStyle:{color:C.zero, width:2, type:"solid"}, data:[{yAxis:0}]}});
add({type:"line", xAxisIndex:1, yAxisIndex:1, silent:true, symbol:"none", z:5,
  data:pts(macdSignal), lineStyle:{width:1.3, color:sigGrad}});

/* middle strip */
add({type:"line", xAxisIndex:2, yAxisIndex:2, silent:true, symbol:"none", z:4,
  data:pts(stripLine), lineStyle:{color:C.yellow, width:1},
  markLine:{silent:true, symbol:"none", label:{show:false}, lineStyle:{color:"#7a7a7a", width:1, type:"solid"},
    data: stripGridValues.map(function(v){ return {yAxis:v}; })}});
var greenDots = [], redDots = [];
for(var i=0;i<ohlc.length;i++){
  var inRed = stripRedRuns.some(function(r){ return i>=r[0] && i<=r[1]; });
  (inRed ? redDots : greenDots).push([cats[i], stripDotLevel]);
}
add({type:"scatter", xAxisIndex:2, yAxisIndex:2, silent:true, z:5, symbol:"diamond", symbolSize:[4,5],
  itemStyle:{color:C.stripDot}, data:greenDots});
add({type:"scatter", xAxisIndex:2, yAxisIndex:2, silent:true, z:5, symbol:"rect", symbolSize:[7.4,6],
  itemStyle:{color:C.stripRed}, data:redDots});

/* volume */
add({type:"bar", xAxisIndex:3, yAxisIndex:3, silent:true, z:3, barWidth:3,
  data: volume.map(function(v,i){ return {value:v, itemStyle:{color:volColorMap[volColor[i]] || C.volDn}}; })});
add({type:"line", xAxisIndex:3, yAxisIndex:3, silent:true, symbol:"none", z:4,
  data:pts(volAvg), lineStyle:{color:C.white, width:1}});

function hiddenX(gi){
  return {type:"category", gridIndex:gi, data:cats, boundaryGap:true, show:false,
    axisLine:{show:false}, axisTick:{show:false}, axisLabel:{show:false}, splitLine:{show:false}};
}
var xAxes = [hiddenX(0), hiddenX(1), hiddenX(2), {
  type:"category", gridIndex:3, data:cats, boundaryGap:true,
  axisLine:{show:true, onZero:false, lineStyle:{color:C.axis, width:1}},
  axisTick:{show:true, alignWithLabel:true, length:3, lineStyle:{color:C.axis},
    interval:function(idx){ return tickMap[idx] !== undefined; }},
  axisLabel:{show:true, color:"#ffffff", fontSize:FS, fontFamily:FONT, margin:6,
    interval:function(idx){ return tickMap[idx] !== undefined; },
    formatter:function(v, idx){ return tickMap[idx] || ""; }},
  splitLine:{show:false}
}];

var yAxes = [
  {type:"value", gridIndex:0, position:"right", min:1960, max:2070, interval:20,
    axisLine:{show:true, onZero:false, lineStyle:{color:C.axis, width:1}},
    axisTick:{show:true, length:3, lineStyle:{color:"#cccccc"}, customValues:priceTicks},
    axisLabel:{show:true, color:"#ffffff", fontSize:FS, fontFamily:FONT, margin:5,
      formatter:function(v){ return priceTicks.indexOf(v) >= 0 ? fmtPrice(v) : ""; }},
    splitLine:{show:false}},
  {type:"value", gridIndex:1, position:"right", min:macdMin, max:macdMax,
    axisLine:{show:true, onZero:false, lineStyle:{color:C.axis, width:1}},
    axisTick:{show:false}, axisLabel:{show:false}, splitLine:{show:false}},
  {type:"value", gridIndex:2, position:"right", min:1, max:7, interval:1,
    axisLine:{show:true, onZero:false, lineStyle:{color:C.axis, width:1}},
    axisTick:{show:true, length:3, lineStyle:{color:"#cccccc"}, customValues:stripTicks},
    axisLabel:{show:true, color:"#ffffff", fontSize:FS, fontFamily:FONT, margin:5,
      formatter:function(v){ return stripTicks.indexOf(v) >= 0 ? v.toFixed(2) : ""; }},
    splitLine:{show:false}},
  {type:"value", gridIndex:3, position:"right", min:0, max:55,
    axisLine:{show:true, onZero:false, lineStyle:{color:C.axis, width:1}},
    axisTick:{show:false}, axisLabel:{show:false}, splitLine:{show:false}}
];

var chart = echarts.init(document.getElementById("chart"), null, {renderer:"canvas"});
chart.setOption({
  animation:false,
  backgroundColor:"#000000",
  grid:grids,
  xAxis:xAxes,
  yAxis:yAxes,
  series:series
});

/* ---------- overlay: separators, tags, header, frame ---------- */
function buildGraphic(){
  var g = [];
  var font = FS + "px " + FONT;
  dayStarts.forEach(function(i){
    var x = Math.round(chart.convertToPixel({xAxisIndex:0}, cats[i])) + 0.5;
    g.push({type:"line", silent:true, z:3.5, shape:{x1:x, y1:14, x2:x, y2:909},
      style:{stroke:"#8a8a8a", lineWidth:1, lineDash:[3,3]}});
  });
  [622, 799, 854, 909].forEach(function(y){
    g.push({type:"line", silent:true, z:50, shape:{x1:W, y1:y+0.5, x2:1920, y2:y+0.5}, style:{stroke:C.axis, lineWidth:1}});
  });
  function tag(y, t){
    g.push({type:"rect", silent:true, z:60, shape:{x:W+1, y:Math.round(y-6.5), width:1920-W-1, height:13}, style:{fill:t[2]}});
    g.push({type:"text", silent:true, z:61, style:{x:W+5, y:y, text:t[1], fill:t[3], font:font, textVerticalAlign:"middle", verticalAlign:"middle"}});
  }
  priceTags.forEach(function(t){ tag(chart.convertToPixel({yAxisIndex:0}, t[0]), t); });
  stripTags.forEach(function(t){ tag(chart.convertToPixel({yAxisIndex:2}, t[0]), t); });
  /* header pieces laid out left to right by measured width */
  var mctx = document.createElement("canvas").getContext("2d");
  mctx.font = font;
  var hx = 3;
  header.forEach(function(h){
    g.push({type:"text", silent:true, z:70, style:{x:hx, y:10, text:h[0], fill:h[1], font:font, textVerticalAlign:"middle", verticalAlign:"middle"}});
    hx += mctx.measureText(h[0]).width + 5;
  });
  g.push({type:"line", silent:true, z:70, shape:{x1:0, y1:0.5, x2:W, y2:0.5}, style:{stroke:"#8a8a8a", lineWidth:1}});
  g.push({type:"line", silent:true, z:70, shape:{x1:0.5, y1:0, x2:0.5, y2:909}, style:{stroke:"#8a8a8a", lineWidth:1}});
  /* scrollbar and footer */
  g.push({type:"rect", silent:true, z:80, shape:{x:0, y:931, width:1920, height:16}, style:{fill:"#d9d7d2"}});
  g.push({type:"rect", silent:true, z:81, shape:{x:1, y:931, width:16, height:15}, style:{fill:"#d4d0c8", stroke:"#808080", lineWidth:1}});
  g.push({type:"polygon", silent:true, z:82, shape:{points:[[6,938.5],[10,935],[10,942]]}, style:{fill:"#000"}});
  g.push({type:"rect", silent:true, z:81, shape:{x:1887, y:931, width:14, height:15}, style:{fill:"#d4d0c8", stroke:"#808080", lineWidth:1}});
  g.push({type:"rect", silent:true, z:81, shape:{x:1902, y:931, width:16, height:15}, style:{fill:"#d4d0c8", stroke:"#808080", lineWidth:1}});
  g.push({type:"polygon", silent:true, z:82, shape:{points:[[1912,938.5],[1908,935],[1908,942]]}, style:{fill:"#000"}});
  g.push({type:"rect", silent:true, z:80, shape:{x:0, y:947, width:1920, height:15}, style:{fill:"#ffffff"}});
  g.push({type:"text", silent:true, z:81, style:{x:1917, y:955, text:"Created with TradeStation. \u00A9TradeStation Technologies, Inc. All rights reserved.",
    fill:"#000000", font:font, textAlign:"right", align:"right", textVerticalAlign:"middle", verticalAlign:"middle"}});
  chart.setOption({graphic:{elements:g}});
}
buildGraphic();
</script>
</body>
</html>
